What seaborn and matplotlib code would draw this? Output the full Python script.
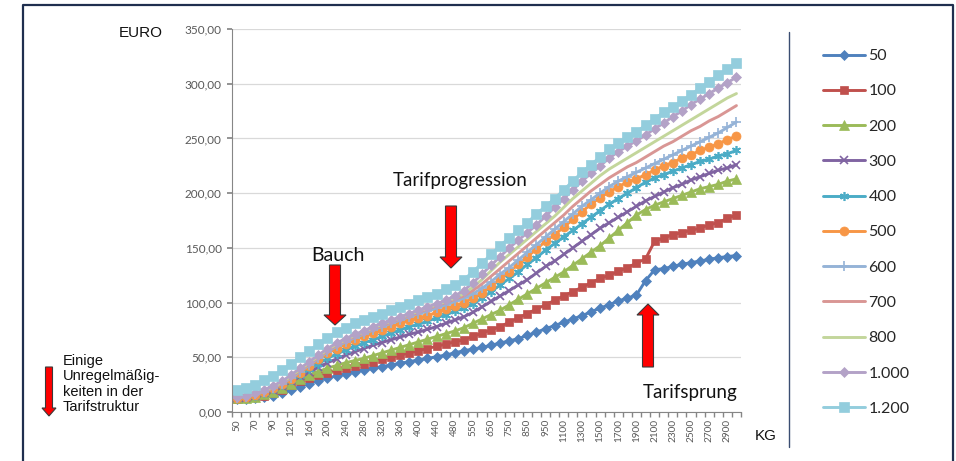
import numpy as np
import matplotlib
matplotlib.use("Agg")
import matplotlib.pyplot as plt
import seaborn as sns
from matplotlib.patches import Polygon

# Gewichtsklassen (KG) auf der x-Achse
weights = [50, 60, 70, 80, 90, 100, 120, 140, 160, 180, 200, 220, 240, 260, 280, 300,
           320, 340, 360, 380, 400, 420, 440, 460, 480, 500, 550, 600, 650, 700, 750,
           800, 850, 900, 950, 1000, 1100, 1200, 1300, 1400, 1500, 1600, 1700, 1800,
           1900, 2000, 2100, 2200, 2300, 2400, 2500, 2600, 2700, 2800, 2900, 3000]

series_names = ["50", "100", "200", "300", "400", "500", "600", "700", "800", "1.000", "1.200"]

# Frachtkosten in EURO je Entfernungsreihe
s50 = [12, 12, 12.5, 13.5, 15, 17, 20, 23, 26, 28.5, 31, 33, 35, 37, 38.5, 40, 41.5, 43, 44.5, 46,
       47.5, 49, 50.5, 52, 54, 56, 57.5, 59, 61, 63, 65, 67, 70, 73, 76, 79, 82, 85, 88, 91.5,
       95, 98, 101.5, 104, 107, 120, 130, 131, 133, 135, 136.5, 138, 139.5, 141, 142, 143]
s100 = [12, 12.5, 13.5, 15, 17.5, 20.5, 24.5, 28, 31, 33.5, 36, 38, 40, 42, 44, 46, 48, 50, 52, 54,
        56, 58, 60, 62, 64, 66, 69, 72, 75, 78, 82, 86, 90, 94, 98, 102, 106, 110, 114, 118,
        122, 125, 128.5, 132, 136, 140, 156, 159, 162, 164, 166, 168, 171, 173, 177, 180]
s200 = [12.5, 13, 14, 16, 18.5, 22, 26, 30, 34, 37, 40, 42.5, 45, 47, 49, 51.5, 54, 56.5, 59, 61.5,
        64, 66.5, 69, 71.5, 74, 77, 81, 85, 89, 93, 98, 103, 108, 113, 118, 123, 128, 134, 140, 146,
        152, 159, 166, 173, 180, 185, 189, 192, 195, 198, 201, 204, 206, 208, 211, 213]
s300 = [12.5, 13, 14.5, 17, 20, 23.5, 28, 32.5, 37, 41, 45, 48.5, 52, 55, 58, 61, 63.5, 66, 68.5, 71,
        73, 75.5, 78, 81, 84, 87, 91, 96, 101, 106, 111, 116, 121, 127, 133, 138, 144, 150, 156, 162,
        168, 173, 178, 183, 188, 193, 197, 201, 205, 208, 212, 215, 218, 221, 223, 226]
s400 = [12.5, 13.5, 15, 17.5, 21, 24.5, 29, 34, 39, 44, 49, 53, 57, 60, 63, 66, 69, 72, 75, 78,
        80, 83, 86, 89, 92, 95, 99, 104, 110, 116, 122, 128, 135, 141, 148, 154, 160, 166, 172, 178,
        184, 190, 195, 200, 205, 210, 214, 217, 220, 223, 226, 229, 231, 234, 236, 239]
s500 = [13, 14, 15.5, 18, 21.5, 25.5, 30, 36, 42, 48, 54, 58, 62, 66, 69, 72, 75, 78, 81, 84,
        86, 88, 91, 94, 97, 100, 104, 109, 115, 122, 128, 135, 142, 149, 156, 162, 169, 176, 183, 190,
        196, 201, 206, 210, 213, 217, 221, 225, 228, 232, 235, 239, 242, 245, 249, 252]
s600 = [13, 14, 16, 18.5, 22, 26, 31, 37, 43, 49, 55, 60, 64, 68, 71, 75, 78, 81, 84, 87,
        90, 92, 95, 98, 101, 104, 108, 113, 119, 126, 132, 139, 146, 153, 160, 167, 174, 181, 188, 194,
        200, 206, 211, 215, 219, 223, 227, 231, 235, 239, 243, 247, 251, 255, 260, 265]
s700 = [13.5, 14.5, 16.5, 19, 22.5, 26.5, 32, 38, 44, 50, 56, 61, 65, 69, 72, 76, 79, 82, 85, 88,
        91, 94, 97, 100, 103, 106, 111, 117, 124, 131, 138, 145, 152, 159, 166, 173, 180, 188, 195, 202,
        208, 214, 219, 224, 228, 233, 238, 243, 247, 252, 257, 261, 266, 270, 275, 280]
s800 = [13.5, 14.5, 16.5, 19.5, 23, 27, 33, 39, 45, 51, 57, 62, 66, 70, 73, 77, 80, 83, 86, 89,
        92, 95, 98, 101, 104, 108, 114, 121, 129, 137, 144, 151, 158, 165, 172, 179, 187, 195, 202, 209,
        216, 222, 227, 232, 237, 242, 247, 252, 257, 262, 267, 272, 277, 282, 287, 291]
s1000 = [14, 15, 17, 20, 24, 28, 34, 40, 46, 52, 58, 63, 67, 71, 74, 78, 81, 84, 87, 90,
         93, 96, 99, 102, 106, 111, 118, 126, 134, 142, 150, 157, 164, 171, 179, 187, 195, 203, 211, 218,
         225, 232, 238, 243, 248, 253, 259, 264, 270, 275, 281, 286, 291, 296, 301, 306]
s1200 = [20, 22, 25, 29, 33, 38, 44, 50, 56, 62, 68, 73, 77, 81, 84, 87, 90, 93, 96, 99,
         102, 105, 108, 112, 116, 121, 128, 136, 144, 152, 159, 166, 173, 181, 188, 195, 203, 211, 219, 226,
         233, 240, 246, 251, 256, 262, 268, 274, 279, 284, 290, 296, 302, 308, 313, 319]

values = [s50, s100, s200, s300, s400, s500, s600, s700, s800, s1000, s1200]

colors = ["#4F81BD", "#C0504D", "#9BBB59", "#8064A2", "#4BACC6", "#F79646",
          "#95B3D7", "#D99694", "#C3D69B", "#B3A2C7", "#93CDDD"]
markers = ["D", "s", "^", "x", (6, 2, 0), "o", "+", None, None, "D", "s"]
msizes = [4.8, 6, 7, 5.5, 6.5, 6.5, 6.5, 0, 0, 4.8, 7]

sns.set_theme(style="white")
plt.rcParams["font.family"] = ["Lato", "DejaVu Sans"]

fig = plt.figure(figsize=(9.56, 4.61), dpi=100)
ax = fig.add_axes([232 / 956, 1 - 412 / 461, (741 - 232) / 956, (412 - 29) / 461])

pos = np.arange(len(weights))
for name, vals, c, m, ms in zip(series_names, values, colors, markers, msizes):
    kw = dict(color=c, linewidth=2.1, label=name)
    if m is not None:
        kw.update(marker=m, markersize=ms, markeredgecolor=c, markerfacecolor=c,
                  markeredgewidth=1.2 if m in ("x", "+") or isinstance(m, tuple) else 0.5)
    sns.lineplot(x=pos, y=vals, ax=ax, **kw)

ax.set_xlim(-0.5, len(weights) - 0.5)
ax.set_ylim(0, 350)
yt = list(range(0, 351, 50))
ax.set_yticks(yt, [f"{v:.2f}".replace(".", ",") for v in yt])
ax.set_xticks(pos[::2], [str(w) for w in weights[::2]], rotation=90)
ax.set_xticks(np.arange(-0.5, len(weights), 1), minor=True)
ax.grid(axis="y", color="#D9D9D9", linewidth=0.9)
ax.set_axisbelow(True)
for s in ["top", "right"]:
    ax.spines[s].set_visible(False)
for s in ["left", "bottom"]:
    ax.spines[s].set_color("#868686")
    ax.spines[s].set_linewidth(0.8)
ax.tick_params(axis="y", left=True, length=3.5, color="#868686", labelsize=8.5,
               labelcolor="#595959", pad=4)
ax.tick_params(axis="x", which="major", bottom=True, length=0, labelsize=7.2,
               labelcolor="#595959", pad=5)
ax.tick_params(axis="x", which="minor", bottom=True, length=3.5, color="#868686")
ax.set_xlabel("")
ax.set_ylabel("")

handles, labels = ax.get_legend_handles_labels()
ax.legend(handles, labels, loc="upper left", bbox_to_anchor=(823 / 956, 1 - 49 / 461),
          bbox_transform=fig.transFigure, frameon=False, fontsize=11.5,
          handlelength=2.6, handletextpad=0.25, labelspacing=1.32,
          borderpad=0, borderaxespad=0)

# Overlay fuer Rahmen, Pfeile und Beschriftungen (Pixelkoordinaten)
ov = fig.add_axes([0, 0, 1, 1], zorder=5)
ov.set_xlim(0, 956)
ov.set_ylim(461, 0)
ov.axis("off")

ov.plot([23, 23, 953, 953], [475, 5, 5, 475], color="#1F2F4F", lw=1.6, clip_on=False)
ov.plot([789, 789], [32, 447], color="#3B4E72", lw=1)


def block_arrow(xc, y_tail, y_tip, shaft_w, head_w, head_len):
    d = 1 if y_tip > y_tail else -1
    yb = y_tip - d * head_len
    pts = [(xc - shaft_w / 2, y_tail), (xc + shaft_w / 2, y_tail), (xc + shaft_w / 2, yb),
           (xc + head_w / 2, yb), (xc, y_tip), (xc - head_w / 2, yb), (xc - shaft_w / 2, yb)]
    ov.add_patch(Polygon(pts, closed=True, facecolor="#FF0000", edgecolor="#3A3A3A", lw=0.8))


block_arrow(335, 265, 325, 11, 22, 10)
block_arrow(451, 206, 268, 11, 22, 11)
block_arrow(648, 367, 304, 11, 22, 11)
block_arrow(49, 367, 416, 7, 14, 8)

arial = ["Liberation Sans", "DejaVu Sans"]
ov.text(141, 33, "EURO", ha="center", va="center", fontsize=11, family=arial, color="#111111")
ov.text(766, 436, "KG", ha="center", va="center", fontsize=11, family=arial, color="#111111")
ov.text(63, 384, "Einige\nUnregelmäßig-\nkeiten in der\nTarifstruktur", ha="left", va="center",
        fontsize=10.5, family=arial, linespacing=1.12, color="#111111")
ov.text(338, 255, "Bauch", ha="center", va="center", fontsize=14, color="#111111")
ov.text(460, 180, "Tarifprogression", ha="center", va="center", fontsize=13.5, color="#111111")
ov.text(690, 392, "Tarifsprung", ha="center", va="center", fontsize=13.5, color="#111111")

fig.savefig("out.png", dpi=100)
